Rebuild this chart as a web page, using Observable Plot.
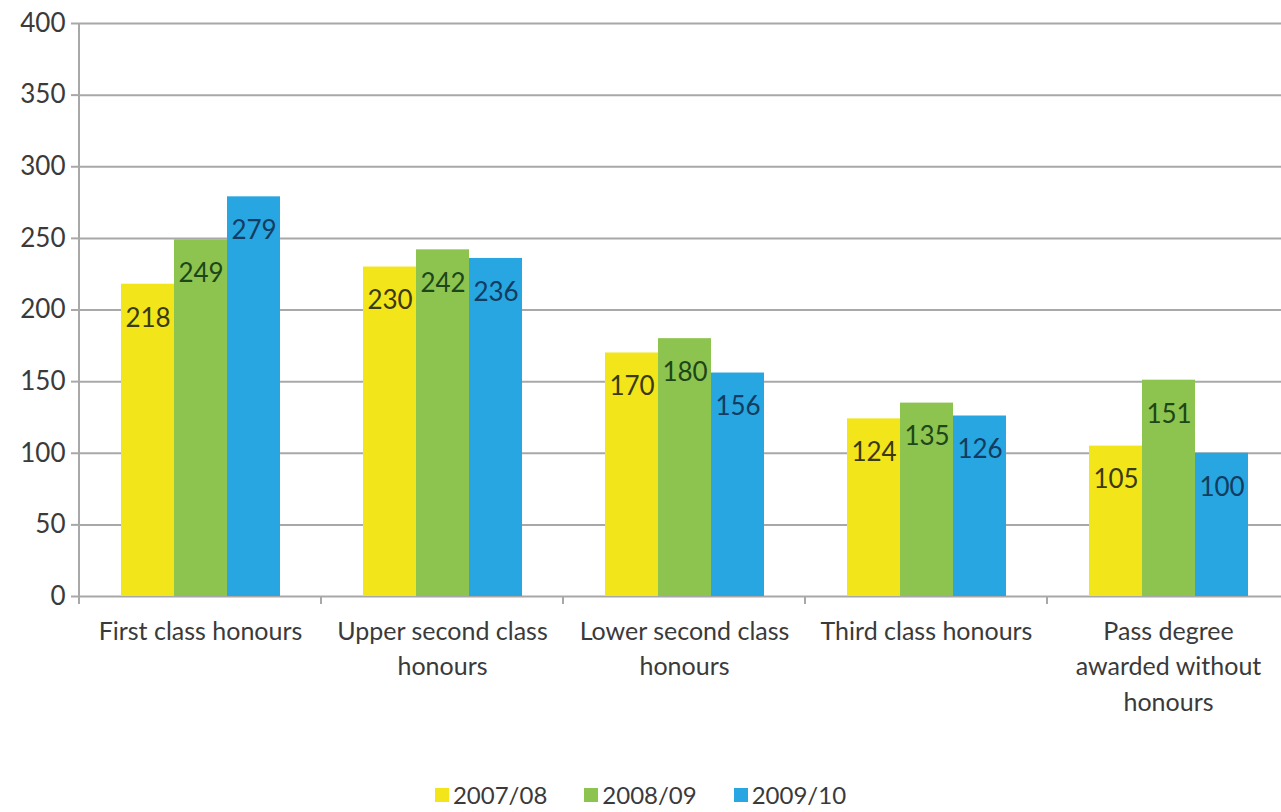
<!DOCTYPE html>
<html><head><meta charset="utf-8">
<script src="https://cdn.jsdelivr.net/npm/d3@7"></script>
<script src="https://cdn.jsdelivr.net/npm/@observablehq/plot@0.6"></script>
<style>
body{margin:0;background:#fff;font-family:Lato, sans-serif;overflow:hidden;}
#chart{width:1281px;overflow:hidden;}
#legend{display:flex;justify-content:center;margin-top:36px;}
.lg-swatches{font-family:Lato, sans-serif !important;font-size:24px !important;color:#3a3a3a !important;}
.lg-swatch{margin-right:37px !important;}
.lg-swatch:last-child{margin-right:0 !important;}
.lg-swatch > svg{margin-right:4px !important;}
</style></head><body><div id="chart"></div><div id="legend"></div><script>
const categories = ["First class honours","Upper second class honours","Lower second class honours","Third class honours","Pass degree awarded without honours"];
const categoryLabels = ["First class honours","Upper second class\nhonours","Lower second class\nhonours","Third class honours","Pass degree\nawarded without\nhonours"];
const series = ["2007/08","2008/09","2009/10"];
const values0708 = [218,230,170,124,105];
const values0809 = [249,242,180,135,151];
const values0910 = [279,236,156,126,100];
const yTicks = [0,50,100,150,200,250,300,350,400];
const colors = ["#f2e61a","#8dc44f","#27a6e1"];
const labelColors = ["#3b3a12","#1e4619","#123c60"];

const seriesValues = [values0708, values0809, values0910];
const rows = categories.flatMap((c,i)=>seriesValues.map((vals,j)=>({category:c, series:series[j], value:vals[i]})));

const gridColor = "#a8a8a8";
const chart = Plot.plot({
  width:1281, height:742, marginLeft:77, marginRight:-9, marginTop:23, marginBottom:146,
  style:{fontFamily:"Lato, sans-serif", fontSize:"24px", color:"#3a3a3a", background:"#fff"},
  fx:{domain:categories, padding:0, label:null, axis:null},
  x:{domain:series, paddingInner:0, paddingOuter:0.75, axis:null},
  y:{domain:[0,400], label:null, axis:null},
  color:{domain:series, range:colors},
  marks:[
    Plot.gridY(yTicks, {stroke:gridColor, strokeOpacity:1, strokeWidth:2}),
    Plot.barY(rows, {fx:"category", x:"series", y:"value", fill:"series", inset:0}),
    ...series.map((s,j)=>Plot.text(rows.filter(d=>d.series===s), {fx:"category", x:"series", y:"value", text:d=>String(d.value), dy:34, fill:labelColors[j], fontSize:26})),
    Plot.axisY(yTicks, {tickSize:8, tickPadding:6, stroke:gridColor, strokeWidth:2, fontSize:26, label:null, fill:"#3a3a3a"}),
    Plot.axisFx({anchor:"bottom", tickSize:0, tickPadding:18, fontSize:25, lineHeight:1.42, label:null, fill:"#3a3a3a", tickFormat:c=>categoryLabels[categories.indexOf(c)]})
  ]
});

// axis line and group-boundary ticks, positioned by the plot's own scales
const fx = chart.scale("fx"), y = chart.scale("y");
const svg = d3.select(chart.tagName.toLowerCase()==="svg" ? chart : chart.querySelector("svg"));
const y0 = y.apply(0), yTop = y.apply(400);
const g = svg.append("g").attr("stroke", gridColor).attr("stroke-width", 2);
g.append("line").attr("x1", fx.apply(categories[0])).attr("x2", fx.apply(categories[0])).attr("y1", yTop).attr("y2", y0 + 8);
categories.slice(1).forEach(c=>{
  const x = fx.apply(c);
  g.append("line").attr("x1", x).attr("x2", x).attr("y1", y0).attr("y2", y0 + 8);
});
document.getElementById("chart").append(chart);

const legend = Plot.legend({color:{domain:series, range:colors}, legend:"swatches", swatchSize:14, className:"lg"});
document.getElementById("legend").append(legend);
</script></body></html>
